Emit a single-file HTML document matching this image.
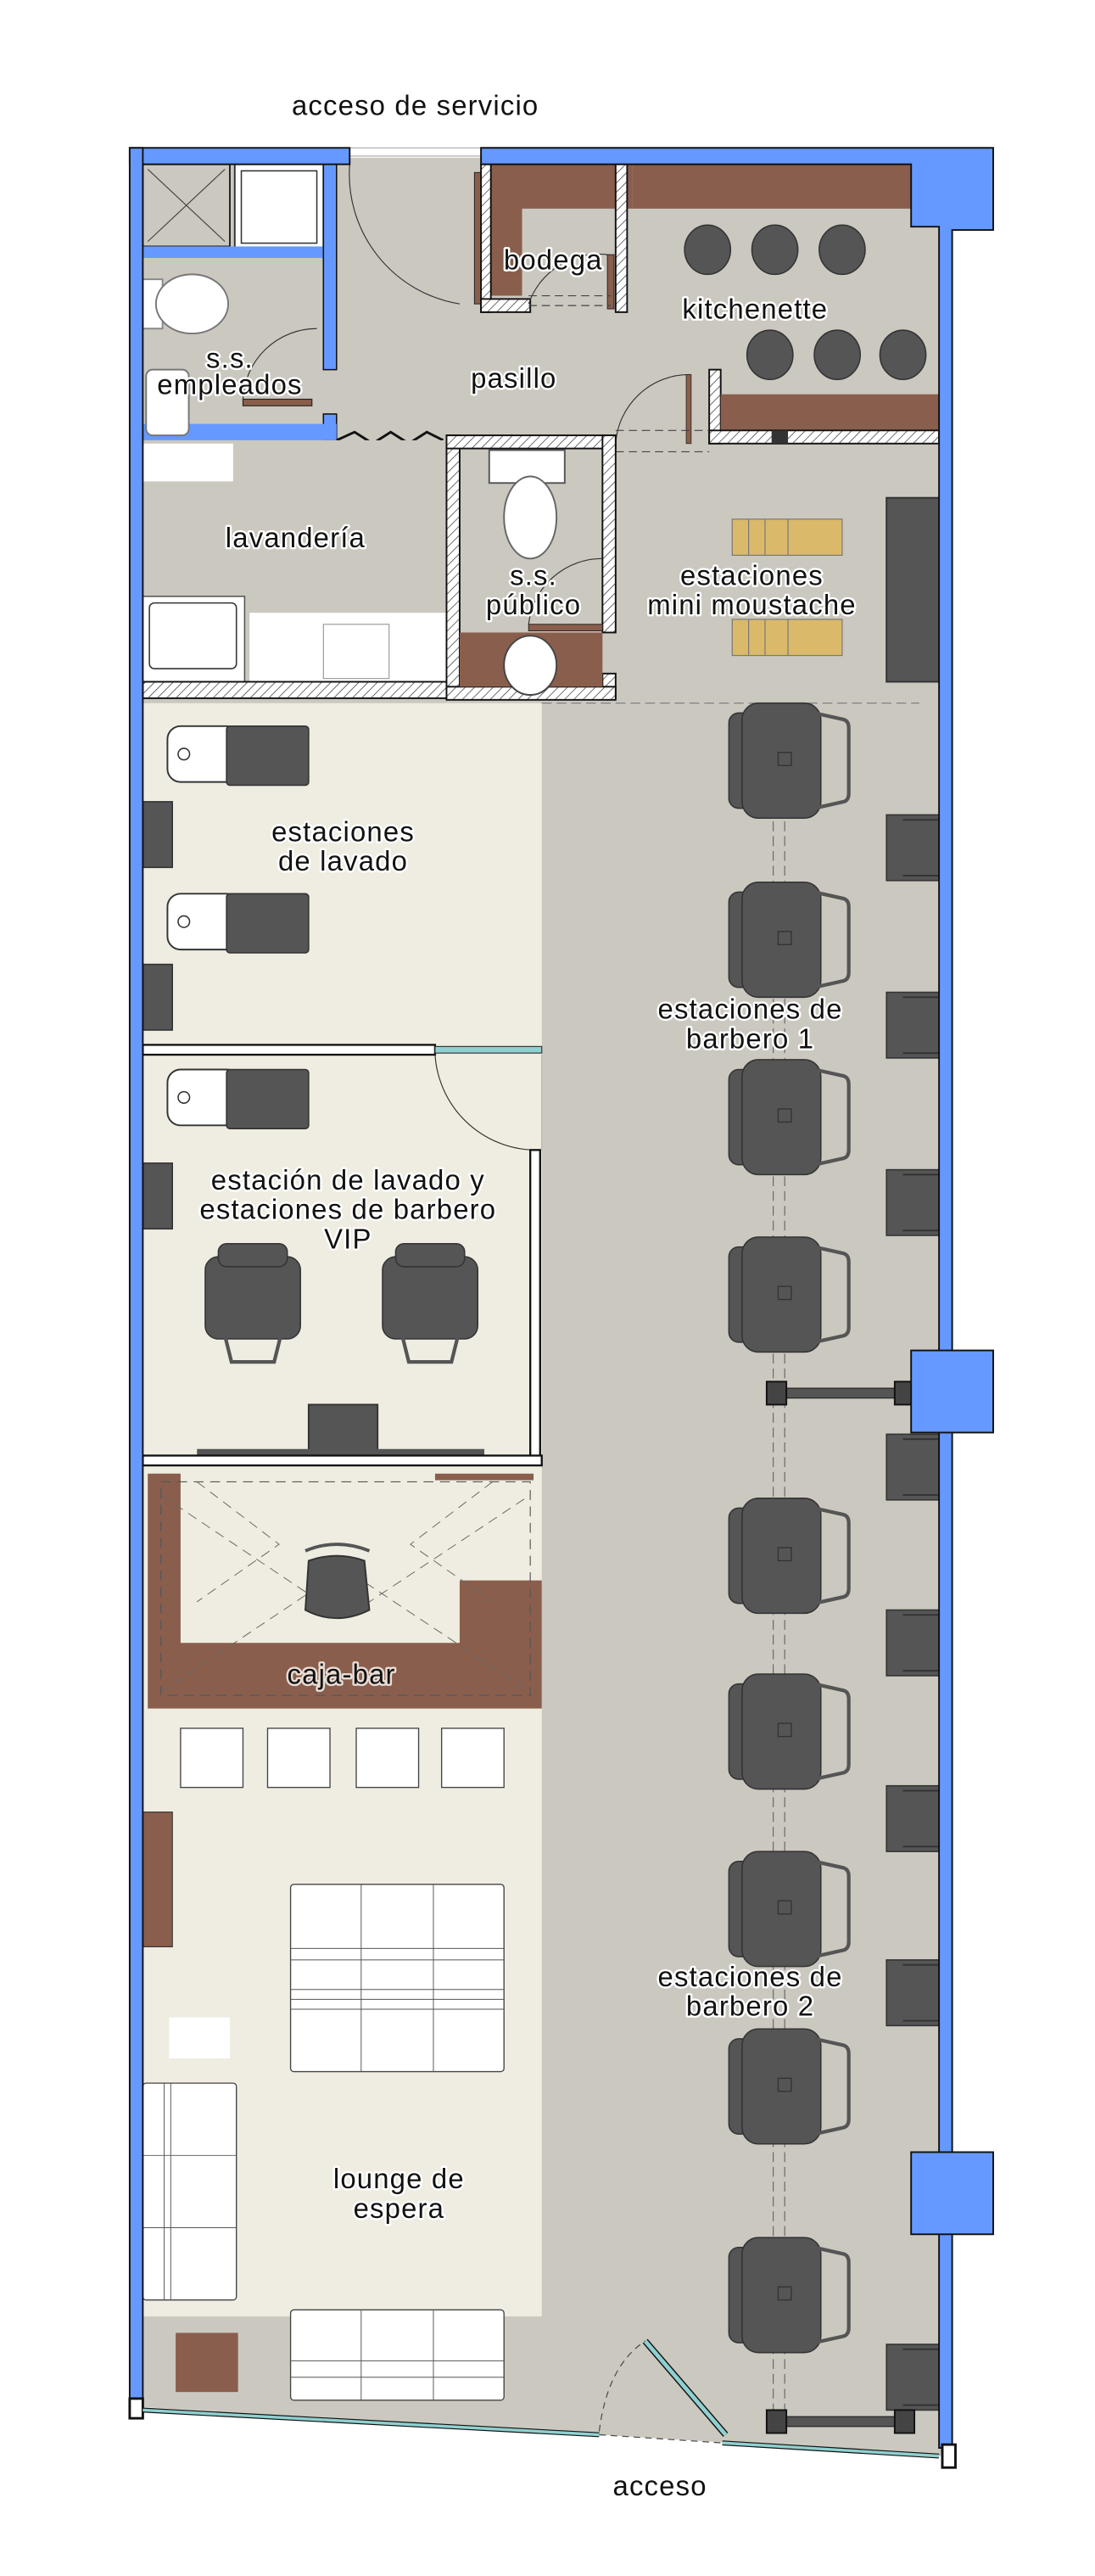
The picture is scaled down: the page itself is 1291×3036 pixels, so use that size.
<!DOCTYPE html>
<html><head><meta charset="utf-8"><style>
html,body{margin:0;padding:0;background:#fff;}
svg{display:block;}
text{font-family:"Liberation Sans",sans-serif;font-size:17px;letter-spacing:0.6px;fill:#111;text-anchor:middle;}
</style></head><body>
<svg width="1291" height="3036" viewBox="0 0 667 1568" preserveAspectRatio="none" xmlns="http://www.w3.org/2000/svg">
<defs>
<pattern id="h" width="4" height="4" patternUnits="userSpaceOnUse" patternTransform="rotate(45)"><rect width="4" height="4" fill="#fff"/><line x1="0" y1="0" x2="0" y2="4" stroke="#444" stroke-width="0.8"/></pattern>
<g id="bc">
<rect x="0" y="6" width="14" height="58" rx="6" fill="#555" stroke="#333" stroke-width="0.8"/>
<rect x="8" y="0" width="48" height="70" rx="10" fill="#555" stroke="#333" stroke-width="0.8"/>
<path d="M52 6 L70 10 Q73 11 73 15 L73 55 Q73 59 70 60 L52 64" fill="none" stroke="#555" stroke-width="2.2"/>
<rect x="30" y="30" width="8" height="8" fill="none" stroke="#333" stroke-width="0.7"/>
</g>
<g id="vc">
<rect x="0" y="8" width="58" height="50" rx="8" fill="#555" stroke="#333" stroke-width="0.8"/>
<rect x="8" y="0" width="42" height="14" rx="5" fill="#555" stroke="#333" stroke-width="0.8"/>
<path d="M12 56 L16 72 L42 72 L46 56" fill="none" stroke="#555" stroke-width="2.2"/>
</g>
<g id="ws">
<rect x="0" y="0" width="44" height="34" rx="8" fill="#fff" stroke="#333" stroke-width="1"/>
<rect x="36" y="0" width="50" height="36" rx="2" fill="#555" stroke="#333" stroke-width="0.8"/>
<circle cx="10" cy="17" r="3.5" fill="none" stroke="#333" stroke-width="0.8"/>
</g>
<g id="ms"><rect x="0" y="0" width="32" height="40" fill="#555" stroke="#333" stroke-width="0.8"/><line x1="10" y1="3" x2="32" y2="3" stroke="#333"/><line x1="10" y1="37" x2="32" y2="37" stroke="#333"/></g>
<g id="ls"><rect x="0" y="0" width="18" height="40" fill="#555" stroke="#333" stroke-width="0.8"/></g>
</defs>

<polygon points="84,96 578,96 578,1495 84,1465" fill="#cbc8c0"/>
<rect x="87" y="428" width="243" height="982" fill="#efede1"/>

<rect x="87" y="100" width="53" height="50" fill="#cbc8c0" stroke="#222" stroke-width="1"/>
<path d="M90 103 L137 147 M137 103 L90 147" stroke="#444" stroke-width="0.6"/>
<rect x="143" y="100" width="54" height="52" fill="#fff" stroke="#333" stroke-width="1"/>
<rect x="147" y="104" width="46" height="44" fill="none" stroke="#333" stroke-width="0.8"/>
<rect x="87" y="150" width="112" height="7" fill="#6699ff"/>
<rect x="197" y="100" width="8" height="125" fill="#6699ff" stroke="#111" stroke-width="0.8"/>
<rect x="197" y="252" width="8" height="16" fill="#6699ff" stroke="#111" stroke-width="0.8"/>
<rect x="79" y="258" width="126" height="10" fill="#6699ff"/>
<rect x="87" y="170" width="12" height="30" fill="#fff" stroke="#888"/>
<ellipse cx="117" cy="185" rx="22" ry="18" fill="#fff" stroke="#777"/>
<rect x="89" y="225" width="26" height="40" rx="4" fill="#fff" stroke="#777"/>
<rect x="148" y="243" width="42" height="4" fill="#8a5e4c" stroke="#222" stroke-width="0.6"/>
<path d="M148 243 A45 45 0 0 1 193 200" fill="none" stroke="#333" stroke-width="0.6"/>
<path d="M213 100 A80 80 0 0 0 280 185" fill="none" stroke="#333" stroke-width="0.6"/>
<rect x="213" y="90" width="80" height="5" fill="#fff" stroke="#999" stroke-width="0.5"/>
<path d="M293 100 L385 100 L385 127 L318 127 L318 180 L293 180 Z" fill="#8a5e4c"/>
<rect x="289" y="105" width="4" height="80" fill="#8a5e4c" stroke="#222" stroke-width="0.5"/>
<rect x="293" y="100" width="6" height="90" fill="url(#h)" stroke="#111"/>
<rect x="293" y="182" width="30" height="8" fill="url(#h)" stroke="#111"/>
<rect x="375" y="100" width="7" height="90" fill="url(#h)" stroke="#111"/>
<path d="M322 185 A45 45 0 0 1 370 155" fill="none" stroke="#333" stroke-width="0.6"/>
<rect x="370" y="155" width="4" height="33" fill="#8a5e4c" stroke="#222" stroke-width="0.5"/>
<line x1="322" y1="180" x2="372" y2="180" stroke="#444" stroke-width="0.6" stroke-dasharray="5,3"/>
<line x1="322" y1="186" x2="372" y2="186" stroke="#444" stroke-width="0.6" stroke-dasharray="5,3"/>
<rect x="385" y="100" width="170" height="27" fill="#8a5e4c"/>
<rect x="432" y="225" width="7" height="45" fill="url(#h)" stroke="#111"/>
<rect x="439" y="240" width="133" height="22" fill="#8a5e4c"/>
<rect x="432" y="262" width="140" height="8" fill="url(#h)" stroke="#111"/>
<rect x="470" y="262" width="10" height="8" fill="#333"/>
<path d="M375 270 A45 45 0 0 1 420 228" fill="none" stroke="#333" stroke-width="0.6"/>
<rect x="418" y="228" width="3" height="42" fill="#8a5e4c" stroke="#222" stroke-width="0.4"/>
<line x1="375" y1="262" x2="432" y2="262" stroke="#444" stroke-width="0.6" stroke-dasharray="5,3"/>
<line x1="375" y1="275" x2="432" y2="275" stroke="#444" stroke-width="0.6" stroke-dasharray="5,3"/>
<g fill="#555" stroke="#333" stroke-width="0.8">
<ellipse cx="431" cy="152" rx="14" ry="15"/><ellipse cx="472" cy="152" rx="14" ry="15"/><ellipse cx="513" cy="152" rx="14" ry="15"/>
<ellipse cx="469" cy="216" rx="14" ry="15"/><ellipse cx="510" cy="216" rx="14" ry="15"/><ellipse cx="550" cy="216" rx="14" ry="15"/>
</g>
<path d="M205 268 L216 263 L227 270 L238 263 L249 270 L260 263 L270 268" fill="none" stroke="#111" stroke-width="1.5"/>
<rect x="87" y="268" width="188" height="152" fill="#cbc8c0"/>
<rect x="87" y="270" width="55" height="23" fill="#fff"/>
<rect x="87" y="363" width="62" height="52" fill="#fff" stroke="#555" stroke-width="0.8"/>
<rect x="91" y="367" width="53" height="40" rx="3" fill="none" stroke="#333" stroke-width="0.8"/>
<rect x="152" y="373" width="121" height="43" fill="#fff"/>
<rect x="197" y="380" width="40" height="33" fill="none" stroke="#999" stroke-width="0.6"/>
<rect x="87" y="415" width="213" height="10" fill="url(#h)" stroke="#111"/>
<rect x="272" y="265" width="8" height="160" fill="url(#h)" stroke="#111"/>
<rect x="272" y="265" width="103" height="8" fill="url(#h)" stroke="#111"/>
<rect x="367" y="265" width="8" height="120" fill="url(#h)" stroke="#111"/>
<rect x="367" y="410" width="8" height="15" fill="url(#h)" stroke="#111"/>
<rect x="272" y="418" width="103" height="8" fill="url(#h)" stroke="#111"/>
<rect x="280" y="385" width="87" height="33" fill="#8a5e4c"/>
<rect x="298" y="274" width="46" height="20" fill="#fff" stroke="#555"/>
<ellipse cx="323" cy="315" rx="16" ry="25" fill="#fff" stroke="#666"/>
<ellipse cx="323" cy="405" rx="16" ry="18" fill="#fff" stroke="#444"/>
<rect x="322" y="380" width="45" height="4" fill="#8a5e4c" stroke="#222" stroke-width="0.5"/>
<path d="M322 380 A45 45 0 0 1 367 340" fill="none" stroke="#333" stroke-width="0.6"/>
<rect x="446" y="316" width="67" height="22" fill="#dab96a" stroke="#777" stroke-width="0.6"/>
<path d="M456 316 V338 M466 316 V338 M480 316 V338" stroke="#777" stroke-width="0.6"/>
<rect x="446" y="377" width="67" height="22" fill="#dab96a" stroke="#777" stroke-width="0.6"/>
<path d="M456 377 V399 M466 377 V399 M480 377 V399" stroke="#777" stroke-width="0.6"/>
<rect x="540" y="303" width="32" height="112" fill="#555" stroke="#333"/>
<line x1="330" y1="428" x2="560" y2="428" stroke="#777" stroke-width="0.6" stroke-dasharray="6,3"/>

<line x1="471" y1="428" x2="471" y2="1468" stroke="#666" stroke-width="0.6" stroke-dasharray="6,3"/>
<line x1="478" y1="428" x2="478" y2="1468" stroke="#666" stroke-width="0.6" stroke-dasharray="6,3"/>
<use href="#bc" x="444" y="428"/><use href="#bc" x="444" y="537"/><use href="#bc" x="444" y="645"/><use href="#bc" x="444" y="753"/>
<use href="#bc" x="444" y="912"/><use href="#bc" x="444" y="1019"/><use href="#bc" x="444" y="1127"/><use href="#bc" x="444" y="1235"/><use href="#bc" x="444" y="1362"/>
<use href="#ms" x="540" y="496"/><use href="#ms" x="540" y="604"/><use href="#ms" x="540" y="712"/>
<use href="#ms" x="540" y="873"/><use href="#ms" x="540" y="980"/><use href="#ms" x="540" y="1087"/><use href="#ms" x="540" y="1193"/><use href="#ms" x="540" y="1427"/>
<rect x="470" y="845" width="82" height="6" fill="#555" stroke="#222" stroke-width="0.6"/>
<rect x="467" y="841" width="12" height="14" fill="#444" stroke="#111"/><rect x="545" y="841" width="12" height="14" fill="#444" stroke="#111"/>
<rect x="470" y="1471" width="82" height="6" fill="#555" stroke="#222" stroke-width="0.6"/>
<rect x="467" y="1467" width="12" height="14" fill="#444" stroke="#111"/><rect x="545" y="1467" width="12" height="14" fill="#444" stroke="#111"/>

<use href="#ws" x="102" y="442"/><use href="#ws" x="102" y="544"/><use href="#ws" x="102" y="651"/>
<use href="#ls" x="87" y="488"/><use href="#ls" x="87" y="587"/><use href="#ls" x="87" y="708"/>
<rect x="87" y="636" width="178" height="6" fill="#fff" stroke="#111" stroke-width="1.2"/>
<rect x="265" y="637" width="65" height="4" fill="#8fd0d0" stroke="#333" stroke-width="0.6"/>
<path d="M265 642 A62 62 0 0 0 325 700" fill="none" stroke="#333" stroke-width="0.6"/>
<rect x="323" y="700" width="6" height="190" fill="#fff" stroke="#111" stroke-width="1.2"/>
<line x1="330" y1="642" x2="330" y2="700" stroke="#aaa" stroke-width="0.5"/>
<use href="#vc" x="125" y="757"/><use href="#vc" x="233" y="757"/>
<rect x="188" y="855" width="42" height="33" fill="#555" stroke="#333"/>
<rect x="120" y="882" width="175" height="4" fill="#555"/>
<rect x="87" y="886" width="243" height="6" fill="#fff" stroke="#111" stroke-width="1.2"/>

<path d="M90 897 L110 897 L110 1000 L280 1000 L280 962 L330 962 L330 1040 L90 1040 Z" fill="#8a5e4c"/>
<rect x="265" y="897" width="60" height="4" fill="#8a5e4c"/>
<rect x="98" y="902" width="225" height="130" fill="none" stroke="#555" stroke-width="0.6" stroke-dasharray="6,4"/>
<path d="M98 910 L210 985 L323 910 M98 1030 L210 955 L323 1030 M120 902 L170 940 L120 975 M300 902 L250 940 L300 975" fill="none" stroke="#666" stroke-width="0.5" stroke-dasharray="6,4"/>
<path d="M188 950 Q205 944 222 950 L225 980 Q205 990 186 980 Z" fill="#555" stroke="#333"/>
<path d="M186 944 Q205 936 225 944" fill="none" stroke="#555" stroke-width="2"/>
<g fill="#fff" stroke="#444" stroke-width="0.7">
<rect x="110" y="1052" width="38" height="36"/><rect x="163" y="1052" width="38" height="36"/><rect x="217" y="1052" width="38" height="36"/><rect x="269" y="1052" width="38" height="36"/>
</g>
<rect x="87" y="1103" width="18" height="82" fill="#8a5e4c" stroke="#333" stroke-width="0.6"/>
<rect x="177" y="1147" width="130" height="114" rx="2" fill="#fff" stroke="#444" stroke-width="0.7"/>
<path d="M220 1147 V1261 M264 1147 V1261 M177 1186 H307 M177 1193 H307 M177 1211 H307 M177 1217 H307 M177 1223 H307" stroke="#555" stroke-width="0.5"/>
<rect x="103" y="1228" width="37" height="25" fill="#fff"/>
<rect x="87" y="1268" width="57" height="132" rx="2" fill="#fff" stroke="#444" stroke-width="0.7"/>
<path d="M100 1268 V1400 M104 1268 V1400 M87 1312 H144 M87 1356 H144" stroke="#555" stroke-width="0.5"/>
<rect x="177" y="1406" width="130" height="55" rx="2" fill="#fff" stroke="#444" stroke-width="0.7"/>
<path d="M220 1406 V1461 M264 1406 V1461 M177 1437 H307 M177 1447 H307" stroke="#555" stroke-width="0.5"/>
<rect x="107" y="1420" width="38" height="36" fill="#8a5e4c"/>

<rect x="79" y="90" width="134" height="10" fill="#6699ff" stroke="#111" stroke-width="1"/>
<rect x="79" y="90" width="8" height="1375" fill="#6699ff" stroke="#111" stroke-width="1"/>
<path d="M293 90 L605 90 L605 140 L580 140 L580 1490 L572 1490 L572 138 L555 138 L555 100 L293 100 Z" fill="#6699ff" stroke="#111" stroke-width="1"/>
<rect x="555" y="822" width="50" height="50" fill="#6699ff" stroke="#111" stroke-width="1"/>
<rect x="555" y="1310" width="50" height="50" fill="#6699ff" stroke="#111" stroke-width="1"/>
<rect x="79" y="1460" width="8" height="12" fill="#fff" stroke="#111" stroke-width="1.5"/>
<rect x="574" y="1488" width="8" height="14" fill="#fff" stroke="#111" stroke-width="1.5"/>
<line x1="87" y1="1467" x2="365" y2="1482" stroke="#111" stroke-width="3"/>
<line x1="87" y1="1467" x2="365" y2="1482" stroke="#8fd0d0" stroke-width="1.8"/>
<line x1="440" y1="1487" x2="572" y2="1495" stroke="#111" stroke-width="3"/>
<line x1="440" y1="1487" x2="572" y2="1495" stroke="#8fd0d0" stroke-width="1.8"/>
<line x1="393" y1="1425" x2="442" y2="1482" stroke="#111" stroke-width="4"/>
<line x1="393" y1="1425" x2="442" y2="1482" stroke="#8fd0d0" stroke-width="2.5"/>
<path d="M365 1480 Q370 1440 393 1425" fill="none" stroke="#444" stroke-width="0.6" stroke-dasharray="4,3"/>
<line x1="365" y1="1482" x2="440" y2="1487" stroke="#444" stroke-width="0.6" stroke-dasharray="4,3"/>

<g style="paint-order:stroke" stroke="#fff" stroke-width="2.5" stroke-linejoin="round">
<text x="253" y="70" stroke="none">acceso de servicio</text>
<text x="337" y="164">bodega</text>
<text x="460" y="194">kitchenette</text>
<text x="140" y="224">s.s.</text>
<text x="140" y="240">empleados</text>
<text x="313" y="236">pasillo</text>
<text x="180" y="333">lavandería</text>
<text x="325" y="356">s.s.</text>
<text x="325" y="374">público</text>
<text x="458" y="356">estaciones</text>
<text x="458" y="374">mini moustache</text>
<text x="209" y="512">estaciones</text>
<text x="209" y="530">de lavado</text>
<text x="457" y="620">estaciones de</text>
<text x="457" y="638">barbero 1</text>
<text x="212" y="724">estación de lavado y</text>
<text x="212" y="742">estaciones de barbero</text>
<text x="212" y="760">VIP</text>
<text x="208" y="1025" stroke="#e8dcd4">caja-bar</text>
<text x="457" y="1209">estaciones de</text>
<text x="457" y="1227">barbero 2</text>
<text x="243" y="1332">lounge de</text>
<text x="243" y="1350">espera</text>
<text x="402" y="1519" stroke="none">acceso</text>
</g>
</svg>
</body></html>
